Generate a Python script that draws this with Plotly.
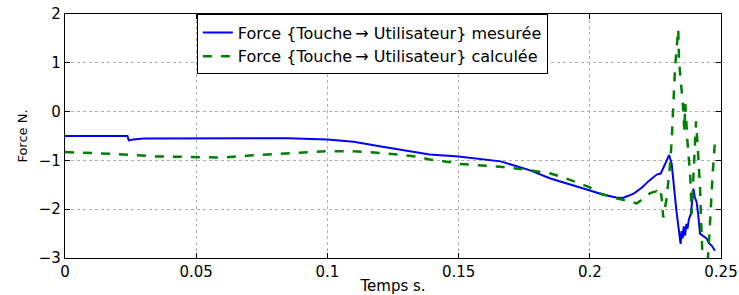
import plotly.graph_objects as go

# Measured force (blue)
t_mes = [0.0, 0.0238, 0.0243, 0.026, 0.03, 0.05, 0.07, 0.085, 0.1, 0.11, 0.121, 0.13, 0.139,
         0.15, 0.166, 0.177, 0.185, 0.196, 0.2, 0.205, 0.21, 0.2125, 0.215, 0.217, 0.22,
         0.2225, 0.2255, 0.227, 0.2285, 0.2302, 0.2312, 0.233, 0.2346, 0.235, 0.2354,
         0.2358, 0.2363, 0.2368, 0.2372, 0.2378, 0.2385, 0.239, 0.2395, 0.24, 0.2407,
         0.2413, 0.242, 0.2432, 0.2445, 0.2455, 0.2465, 0.2477]
f_mes = [-0.5, -0.5, -0.59, -0.57, -0.55, -0.545, -0.54, -0.545, -0.57, -0.62, -0.72, -0.8, -0.88,
         -0.92, -1.02, -1.2, -1.37, -1.55, -1.62, -1.7, -1.76, -1.77, -1.72, -1.67, -1.55,
         -1.42, -1.29, -1.27, -1.1, -0.89, -1.07, -2.03, -2.71, -2.45, -2.6,
         -2.35, -2.54, -2.3, -2.4, -2.2, -2.1, -1.85, -1.58, -1.75, -1.85,
         -2.1, -2.5, -2.55, -2.6, -2.7, -2.75, -2.85]

# Computed force (green dashed)
t_cal = [0.0, 0.02, 0.035, 0.05, 0.06, 0.0705, 0.0896, 0.1, 0.109, 0.121, 0.134, 0.139, 0.147,
         0.15, 0.166, 0.177, 0.185, 0.19, 0.2, 0.202, 0.209, 0.2153, 0.2179, 0.22, 0.223,
         0.2255, 0.2265, 0.2272, 0.228, 0.2292, 0.2305, 0.2312, 0.2318, 0.2325, 0.2337,
         0.234, 0.235, 0.2356, 0.236, 0.2364, 0.2372, 0.2383, 0.2388, 0.2396, 0.2405,
         0.2412, 0.242, 0.2426, 0.2432, 0.2445, 0.2455, 0.2468, 0.2477]
f_cal = [-0.83, -0.87, -0.92, -0.94, -0.94, -0.9, -0.85, -0.81, -0.81, -0.85, -0.92, -0.98, -1.04,
         -1.07, -1.13, -1.2, -1.27, -1.35, -1.55, -1.65, -1.76, -1.84, -1.88, -1.8, -1.67,
         -1.63, -1.75, -1.68, -2.17, -1.8, -1.14, -0.6, 0.23, 0.9, 1.69,
         1.04, 0.43, 0.05, -0.39, 0.16, -0.6, -1.35, -2.1, -1.2, -0.2,
         -0.8, -1.55, -2.5, -3.3, -3.4, -2.6, -1.3, -0.6]

x_ticks = [0, 0.05, 0.1, 0.15, 0.2, 0.25]
x_ticktext = ["0", "0.05", "0.1", "0.15", "0.2", "0.25"]
y_ticks = [-3, -2, -1, 0, 1, 2]

FONT = "DejaVu Sans, Liberation Sans, Arial, sans-serif"

fig = go.Figure()
fig.add_trace(go.Scatter(
    x=t_mes, y=f_mes, mode="lines",
    name="Force {Touche\u2009\u2192 Utilisateur} mesurée",
    line=dict(color="rgb(0,0,255)", width=2),
))
fig.add_trace(go.Scatter(
    x=t_cal, y=f_cal, mode="lines",
    name="Force {Touche\u2009\u2192 Utilisateur} calculée",
    line=dict(color="rgb(0,128,0)", width=2.5, dash="dash"),
))

axis_common = dict(
    showline=True, linecolor="black", linewidth=1.2, mirror="ticks",
    ticks="inside", ticklen=5, tickcolor="black",
    showgrid=True, gridcolor="rgb(175,175,175)", griddash="dot", gridwidth=1,
    zeroline=False, tickfont=dict(family=FONT, size=15, color="black"),
    automargin=False, ticklabeloverflow="allow",
)

fig.update_xaxes(range=[0, 0.25], tickvals=x_ticks, ticktext=x_ticktext,
                 title=dict(text="Temps s.", font=dict(family=FONT, size=15, color="black"), standoff=0),
                 **axis_common)
fig.update_yaxes(range=[-3, 2], tickvals=y_ticks,
                 title=dict(text="Force N.", font=dict(family=FONT, size=13, color="black"), standoff=8),
                 **axis_common)

fig.update_layout(
    width=739, height=295,
    margin=dict(l=65, r=18, t=14, b=37),
    plot_bgcolor="white", paper_bgcolor="white",
    font=dict(family=FONT, color="black"),
    legend=dict(x=0.201, y=0.998, xanchor="left", yanchor="top",
                bordercolor="black", borderwidth=1, bgcolor="white",
                font=dict(family=FONT, size=16, color="black"),
                tracegroupgap=0, itemwidth=30),
    showlegend=True,
)

fig.write_html("out.html",
               config={"displayModeBar": False},
               post_script="document.body.style.margin='0';document.body.style.overflow='hidden';")
